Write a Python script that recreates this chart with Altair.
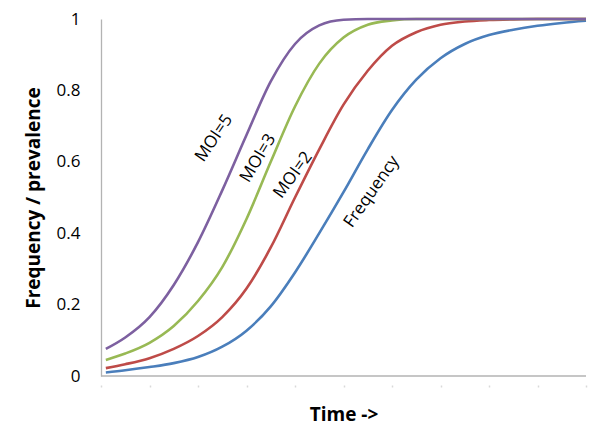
import altair as alt
import pandas as pd

# time grid (arbitrary units across the axis)
t = [1, 5, 10, 15, 20, 25, 30, 35, 40, 45, 50, 55, 60, 65, 70, 75, 80, 85, 90, 95, 100]

freq = [0.010, 0.016, 0.025, 0.036, 0.053, 0.082, 0.127, 0.195, 0.290, 0.400, 0.515,
        0.635, 0.745, 0.830, 0.890, 0.930, 0.955, 0.970, 0.981, 0.989, 0.995]
moi2 = [0.022, 0.033, 0.050, 0.076, 0.112, 0.165, 0.245, 0.360, 0.500, 0.635, 0.760,
        0.855, 0.925, 0.963, 0.984, 0.993, 0.997, 0.999, 1.0, 1.0, 1.0]
moi3 = [0.045, 0.063, 0.093, 0.140, 0.210, 0.305, 0.440, 0.600, 0.755, 0.875, 0.948,
        0.984, 0.996, 1.0, 1.0, 1.0, 1.0, 1.0, 1.0, 1.0, 1.0]
moi5 = [0.076, 0.108, 0.165, 0.255, 0.375, 0.520, 0.675, 0.825, 0.930, 0.982, 0.998,
        1.0, 1.0, 1.0, 1.0, 1.0, 1.0, 1.0, 1.0, 1.0, 1.0]

series_names = ["Frequency", "MOI=2", "MOI=3", "MOI=5"]
series_colors = ["#4A7EBB", "#BE4B48", "#98B954", "#7D60A0"]

label_text = ["MOI=5", "MOI=3", "MOI=2", "Frequency"]
label_t = [23.3, 32.4, 39.6, 55.8]
label_v = [0.666, 0.610, 0.563, 0.516]
label_angle = [304, 301, 306, 305]

x_ticks = [0, 10, 20, 30, 40, 50, 60, 70, 80, 90, 100]
y_ticks = [0, 0.2, 0.4, 0.6, 0.8, 1.0]

rows = []
for name, vals in zip(series_names, [freq, moi2, moi3, moi5]):
    for ti, v in zip(t, vals):
        rows.append({"t": ti, "v": v, "series": name})
df = pd.DataFrame(rows)

labels_df = pd.DataFrame({"t": label_t, "v": label_v, "text": label_text, "angle": label_angle})

x_scale = alt.Scale(domain=[0, 100], nice=False, zero=False)
y_scale = alt.Scale(domain=[0, 1], nice=False)

lines = alt.Chart(df).mark_line(strokeWidth=2.6, interpolate="monotone").encode(
    x=alt.X("t:Q", scale=x_scale,
            axis=alt.Axis(title="Time ->", values=x_ticks, labels=False, domain=False,
                          grid=False, ticks=True, tickSize=2, tickWidth=1.5,
                          tickColor="#d9d9d9", offset=9,
                          titleFont="Open Sans", titleFontSize=19, titleFontWeight="bold",
                          titleColor="#000000", titleY=29, titleBaseline="middle")),
    y=alt.Y("v:Q", scale=y_scale,
            axis=alt.Axis(title="Frequency / prevalence", values=y_ticks, format="~g",
                          grid=False, ticks=False, domain=True, domainColor="#b3b3b3",
                          domainWidth=1.3, labelPadding=21,
                          labelFont="Open Sans", labelFontSize=17, labelColor="#000000",
                          titleFont="Open Sans", titleFontSize=19, titleFontWeight="bold",
                          titleColor="#000000", titleX=-68, titleBaseline="middle")),
    color=alt.Color("series:N", scale=alt.Scale(domain=series_names, range=series_colors),
                    legend=None),
    detail="series:N",
)

base_rule = alt.Chart(pd.DataFrame({"v": [0]})).mark_rule(color="#b3b3b3", strokeWidth=1.3).encode(
    y=alt.Y("v:Q", scale=y_scale)
)

texts = alt.Chart(labels_df).mark_text(font="Open Sans", fontSize=17, color="#000000",
                                        align="center", baseline="middle").encode(
    x=alt.X("t:Q", scale=x_scale),
    y=alt.Y("v:Q", scale=y_scale),
    text="text:N",
    angle=alt.Angle("angle:Q", scale=None),
)

chart = alt.layer(base_rule, lines, texts).properties(
    width=485, height=357,
    autosize=alt.AutoSizeParams(type="none"),
    padding={"left": 93, "top": 11, "right": 6, "bottom": 60},
).configure_view(stroke=None)

chart.save("out.html", embed_options={"renderer": "svg", "actions": False})
